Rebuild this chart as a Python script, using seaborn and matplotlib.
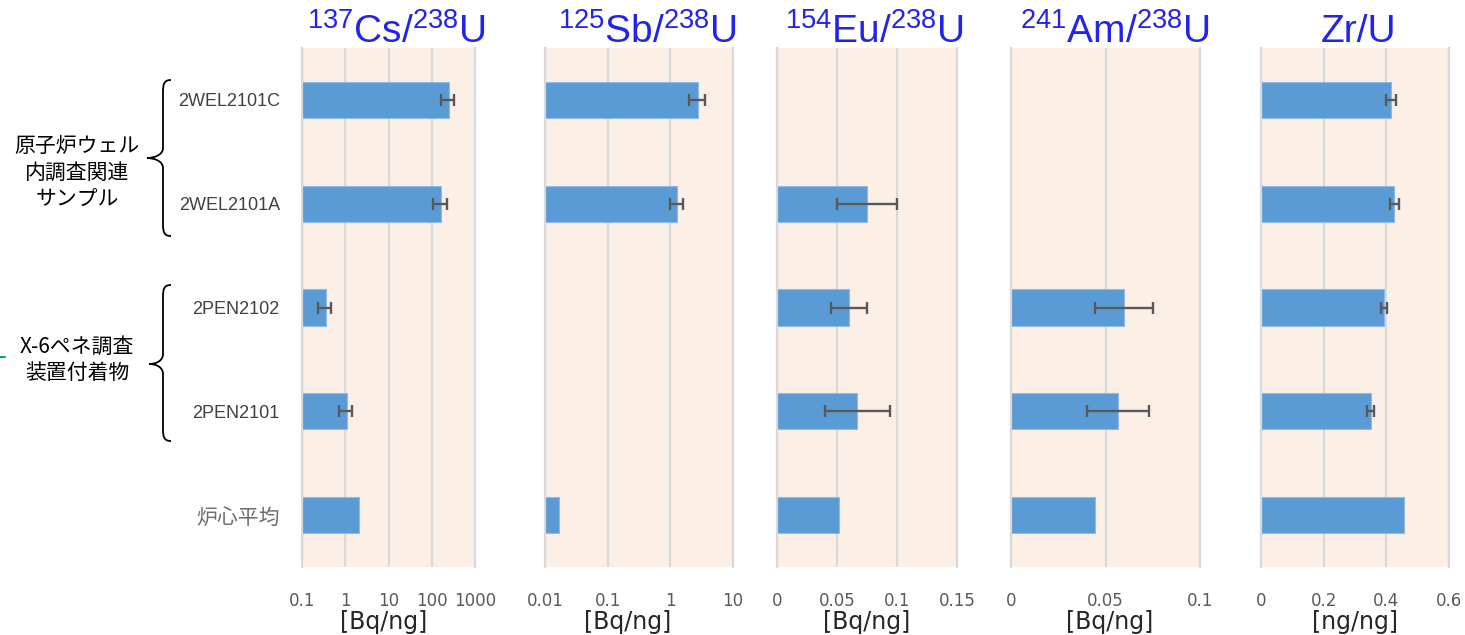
import numpy as np
import pandas as pd
import matplotlib
matplotlib.use("Agg")
import matplotlib.pyplot as plt
from matplotlib.path import Path
from matplotlib.patches import PathPatch
from matplotlib.lines import Line2D
from matplotlib.ticker import NullLocator
import seaborn as sns

# ---- data -------------------------------------------------------------
samples = ["2WEL2101C", "2WEL2101A", "2PEN2102", "2PEN2101", "炉心平均"]

cs137 = [248, 167, 0.35, 1.07, 2.1]
cs137_err = [80, 60, 0.12, 0.37, np.nan]

sb125 = [2.8, 1.28, np.nan, np.nan, 0.017]
sb125_err = [0.83, 0.30, np.nan, np.nan, np.nan]

eu154 = [np.nan, 0.075, 0.060, 0.067, 0.052]
eu154_err = [np.nan, 0.025, 0.0153, 0.027, np.nan]

am241 = [np.nan, np.nan, 0.060, 0.0567, 0.0443]
am241_err = [np.nan, np.nan, 0.0153, 0.0163, np.nan]

zr = [0.414, 0.426, 0.392, 0.350, 0.455]
zr_err = [0.016, 0.014, 0.010, 0.012, np.nan]

titles = [r"$^{137}$Cs/$^{238}$U", r"$^{125}$Sb/$^{238}$U", r"$^{154}$Eu/$^{238}$U",
          r"$^{241}$Am/$^{238}$U", "Zr/U"]
units = ["[Bq/ng]", "[Bq/ng]", "[Bq/ng]", "[Bq/ng]", "[ng/ng]"]

cs_ticks = [0.1, 1, 10, 100, 1000]
cs_ticklabels = ["0.1", "1", "10", "100", "1000"]
sb_ticks = [0.01, 0.1, 1, 10]
sb_ticklabels = ["0.01", "0.1", "1", "10"]
eu_ticks = [0, 0.05, 0.1, 0.15]
eu_ticklabels = ["0", "0.05", "0.1", "0.15"]
am_ticks = [0, 0.05, 0.1]
am_ticklabels = ["0", "0.05", "0.1"]
zr_ticks = [0, 0.2, 0.4, 0.6]
zr_ticklabels = ["0", "0.2", "0.4", "0.6"]

group_labels = [["原子炉ウェル", "内調査関連", "サンプル"], ["X-6ペネ調査", "装置付着物"]]

# ---- style ------------------------------------------------------------
W, H = 1465, 635
BAR = "#5B9BD5"
BG = "#FCEFE6"
GRID = "#D9D9D9"
ERR = "#595959"
TITLE = "#2323EE"

sns.set_theme(style="white")
plt.rcParams["font.family"] = ["Liberation Sans", "Noto Sans CJK JP", "DejaVu Sans"]
plt.rcParams["mathtext.default"] = "regular"

fig = plt.figure(figsize=(W / 100, H / 100), dpi=100)

AX_TOP, AX_BOTTOM = 48, 567

panels = [
    dict(v=cs137, e=cs137_err, log=True, lim=(0.1, 1000), t=cs_ticks, tl=cs_ticklabels, px=(302, 475), lx=0.474, tx=8),
    dict(v=sb125, e=sb125_err, log=True, lim=(0.01, 10), t=sb_ticks, tl=sb_ticklabels, px=(545, 733), lx=0.44, tx=9),
    dict(v=eu154, e=eu154_err, log=False, lim=(0, 0.15), t=eu_ticks, tl=eu_ticklabels, px=(777, 957), lx=0.5, tx=8),
    dict(v=am241, e=am241_err, log=False, lim=(0, 0.1), t=am_ticks, tl=am_ticklabels, px=(1011, 1200), lx=0.52, tx=9),
    dict(v=zr, e=zr_err, log=False, lim=(0, 0.6), t=zr_ticks, tl=zr_ticklabels, px=(1261, 1449), lx=0.5, tx=4),
]

for i, p in enumerate(panels):
    l, r = p["px"]
    ax = fig.add_axes([l / W, 1 - AX_BOTTOM / H, (r - l) / W, (AX_BOTTOM - AX_TOP) / H])
    df = pd.DataFrame({"sample": samples, "value": p["v"]})
    sns.barplot(data=df, y="sample", x="value", order=samples, orient="h",
                width=0.35, color=BAR, saturation=1, errorbar=None,
                edgecolor="#8DBBE6", linewidth=0.8, ax=ax)
    if p["log"]:
        ax.set_xscale("log")

    vals = np.array(p["v"], dtype=float)
    errs = np.array(p["e"], dtype=float)
    pos = np.arange(len(samples))
    m = ~np.isnan(errs)
    ax.errorbar(vals[m], pos[m], xerr=errs[m], fmt="none", ecolor=ERR,
                elinewidth=1.7, capsize=4, capthick=1.7, zorder=5)

    ax.set_facecolor(BG)
    ax.set_xlim(*p["lim"])
    ax.set_ylim(len(samples) - 0.5, -0.5)
    ax.set_xticks(p["t"])
    ax.set_xticklabels(p["tl"], family="DejaVu Sans")
    ax.xaxis.set_minor_locator(NullLocator())
    ax.grid(axis="x", color=GRID, linewidth=1.6)
    ax.grid(axis="y", visible=False)
    ax.set_axisbelow(True)
    for s in ("top", "bottom"):
        ax.spines[s].set_visible(False)
    for s in ("left", "right"):
        ax.spines[s].set_visible(True)
        ax.spines[s].set_color(GRID)
        ax.spines[s].set_linewidth(1.6)
    ax.tick_params(axis="x", length=0, pad=18, labelsize=12, labelcolor="#595959")
    ax.tick_params(axis="y", length=0, pad=16, labelsize=13, labelcolor="#404040")

    ax.set_ylabel("")
    ax.set_xlabel(units[i], fontsize=17, color="#262626", va="center", family="DejaVu Sans")
    ax.xaxis.set_label_coords(p["lx"], -0.106)
    ax.set_title(titles[i], fontsize=28, color=TITLE, pad=4, x=0.5 + p["tx"] / (r - l))

    if i == 0:
        ax.set_yticks(pos)
        ax.set_yticklabels(samples)
        for lab in ax.get_yticklabels():
            if lab.get_text() == "炉心平均":
                lab.set_fontfamily(["Noto Sans CJK JP"])
                lab.set_fontsize(15)
                lab.set_color("#6E6E6E")
    else:
        ax.set_yticklabels([])


# ---- group labels and braces on the left -----------------------------
def fx(x):
    return x / W


def fy(y):
    return 1 - y / H


def brace(spine, tip, y0, y1, ym, end):
    verts = [
        (end, y0),
        (spine + 1, y0), (spine, y0 + 4), (spine, y0 + 12),
        (spine, ym - 10),
        (spine, ym - 3), (tip + 7, ym), (tip, ym),
        (tip + 7, ym), (spine, ym + 3), (spine, ym + 10),
        (spine, y1 - 12),
        (spine, y1 - 4), (spine + 1, y1), (end, y1),
    ]
    codes = [Path.MOVETO,
             Path.CURVE4, Path.CURVE4, Path.CURVE4,
             Path.LINETO,
             Path.CURVE4, Path.CURVE4, Path.CURVE4,
             Path.CURVE4, Path.CURVE4, Path.CURVE4,
             Path.LINETO,
             Path.CURVE4, Path.CURVE4, Path.CURVE4]
    path = Path([(fx(x), fy(y)) for x, y in verts], codes)
    fig.add_artist(PathPatch(path, transform=fig.transFigure, fill=False,
                             edgecolor="black", linewidth=1.3))


brace(163, 147, 80, 236, 158, 171)
brace(163, 149, 285, 441, 364, 171)

for lines, yc in zip(group_labels, [172.7, 360]):
    n = len(lines)
    for k, txt in enumerate(lines):
        y = yc + (k - (n - 1) / 2) * 26.3
        fig.text(fx(77), fy(y), txt, ha="center", va="center", fontsize=15,
                 color="black", family=["Noto Sans CJK JP", "DejaVu Sans"])

fig.add_artist(Line2D([fx(0), fx(5)], [fy(357), fy(357)], transform=fig.transFigure,
                      color="#00B050", linewidth=1.5))

fig.savefig("out.png", dpi=100)
